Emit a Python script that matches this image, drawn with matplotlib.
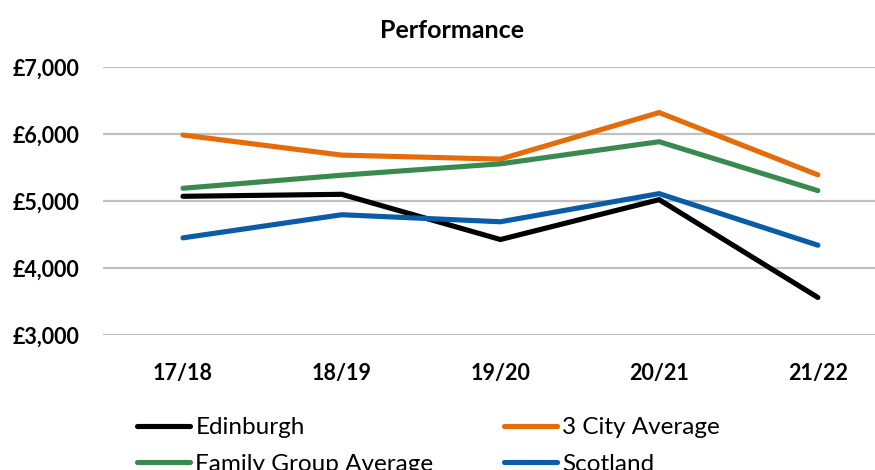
import matplotlib
matplotlib.use("Agg")
import matplotlib.pyplot as plt

years = ["17/18", "18/19", "19/20", "20/21", "21/22"]
edinburgh = [5070, 5100, 4425, 5020, 3560]
city3 = [5985, 5685, 5625, 6320, 5390]
family = [5190, 5385, 5555, 5885, 5155]
scotland = [4450, 4795, 4690, 5110, 4340]

series = [
    ("Edinburgh", edinburgh, "#000000"),
    ("3 City Average", city3, "#E46C0A"),
    ("Family Group Average", family, "#3A8A4F"),
    ("Scotland", scotland, "#0B5CA6"),
]

plt.rcParams['font.family'] = ['Lato', 'DejaVu Sans']

fig = plt.figure(figsize=(8.75, 4.7), dpi=100)
ax = fig.add_axes([103/875, 1 - 335/470, (875-103)/875, (335-67)/470])

x = list(range(len(years)))
lines = {}
for name, vals, col in series:
    lines[name], = ax.plot(x, vals, color=col, lw=3.7, label=name,
                           solid_capstyle='round', solid_joinstyle='miter')

ax.set_ylim(3000, 7000)
ax.set_yticks([3000, 4000, 5000, 6000, 7000])
ax.set_yticklabels([f"£{v:,}" for v in [3000, 4000, 5000, 6000, 7000]], fontsize=15.5, fontweight='bold')
ax.set_xlim(-0.504, 4.36)
ax.set_xticks(x)
ax.set_xticklabels(years, fontsize=15.5, fontweight='bold')
ax.tick_params(axis='both', length=0)
ax.tick_params(axis='y', pad=17)
ax.tick_params(axis='x', pad=20)
ax.yaxis.grid(True, color='#c0c0c0', lw=1.6)
ax.set_axisbelow(True)
for s in ax.spines.values():
    s.set_visible(False)

fig.text(452/875, 1 - 30/470, "Performance", ha='center', va='center', fontsize=18, fontweight='bold')

order = ["Edinburgh", "Family Group Average", "3 City Average", "Scotland"]
fig.legend([lines[n] for n in order], order, loc='upper left',
           bbox_to_anchor=(137/875, 1 - 417/470), ncol=2,
           frameon=False, fontsize=17.5, handlelength=2.2, handletextpad=0.2,
           columnspacing=2.9, labelspacing=0.65, borderpad=0, borderaxespad=0)

fig.savefig("out.png", dpi=100)
